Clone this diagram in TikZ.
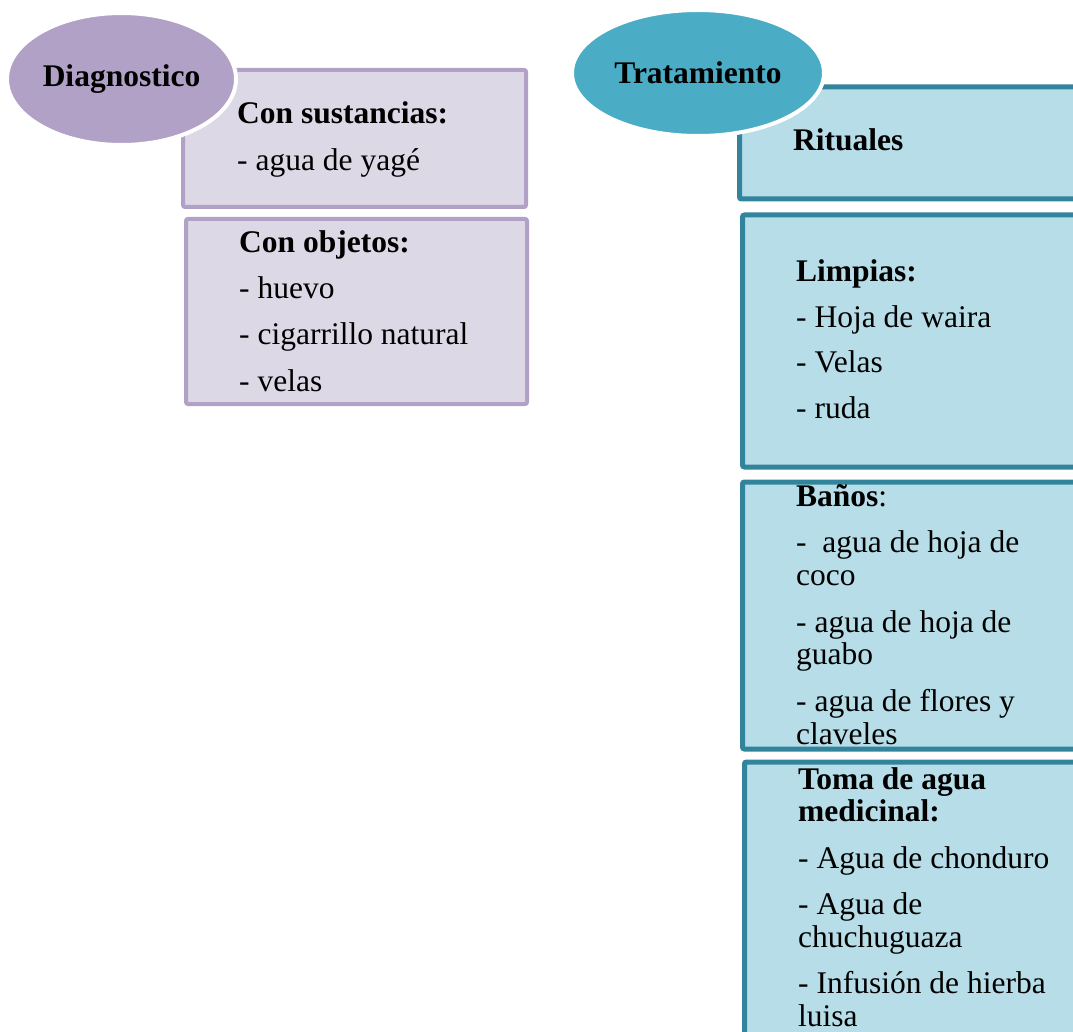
\documentclass[tikz,border=0pt]{standalone}
\usepackage{fontspec}
\setmainfont{Liberation Serif}
\usetikzlibrary{shapes.geometric}

\definecolor{lila}{HTML}{B2A1C7}
\definecolor{lilaclaro}{HTML}{DCD8E5}
\definecolor{turq}{HTML}{4BACC6}
\definecolor{turqclaro}{HTML}{B7DDE8}
\definecolor{turqoscuro}{HTML}{31849B}

\tikzset{
	caja/.style={rectangle, rounded corners=2pt, inner sep=0pt, anchor=north west},
	cajadiag/.style={caja, fill=lilaclaro, draw=lila, line width=4pt},
	cajatrat/.style={caja, fill=turqclaro, draw=turqoscuro, line width=5pt},
	titulo/.style={ellipse, draw=white, line width=4pt, inner sep=0pt, font=\fontsize{31.5}{32}\selectfont\bfseries},
	texto/.style={anchor=base west, inner sep=0pt}
}

\begin{document}
\begin{tikzpicture}[x=1pt,y=-1pt,font=\fontsize{31.5}{32.5}\selectfont]
			\useasboundingbox (0,0) rectangle (1073,1032);
			\clip (0,0) rectangle (1073,1032);

			% diagnostico
			\node[cajadiag, minimum width=343, minimum height=137] (sust) at (181,68) {};
			\node[cajadiag, minimum width=341, minimum height=185] (obj) at (184,217) {};
			\node[texto] (sustxt) at (237,124) {\begin{tabular}[t]{@{}l@{}}
				\textbf{Con sustancias:}\\[14pt]
				- agua de yagé
			\end{tabular}};
			\node[texto] (objtxt) at (239,253) {\begin{tabular}[t]{@{}l@{}}
				\textbf{Con objetos:}\\[13pt]
				- huevo\\[14pt]
				- cigarrillo natural\\[14pt]
				- velas
			\end{tabular}};

			% tratamiento
			\node[cajatrat, minimum width=360, minimum height=112] (rit) at (737,84.5) {};
			\node[cajatrat, minimum width=360, minimum height=252] (limp) at (740,212.5) {};
			\node[cajatrat, minimum width=360, minimum height=267] (banos) at (740,479.5) {};
			\node[cajatrat, minimum width=360, minimum height=300] (toma) at (742,759.5) {};
			\node[texto] (rittxt) at (793,151) {\textbf{Rituales}};
			\node[texto] (limptxt) at (796,281) {\begin{tabular}[t]{@{}l@{}}
				\textbf{Limpias:}\\[13.5pt]
				- Hoja de waira\\[13.5pt]
				- Velas\\[13.5pt]
				- ruda
			\end{tabular}};
			\node[texto] (banostxt) at (796,506) {\begin{tabular}[t]{@{}l@{}}
				\textbf{Baños}:\\[14pt]
				-\ \ agua de hoja de\\
				coco\\[14.5pt]
				- agua de hoja de\\
				guabo\\[14.5pt]
				- agua de flores y\\
				claveles
			\end{tabular}};
			\node[texto] (tomatxt) at (798,789) {\begin{tabular}[t]{@{}l@{}}
				\textbf{Toma de agua}\\
				\textbf{medicinal:}\\[14pt]
				- Agua de chonduro\\[14pt]
				- Agua de\\
				chuchuguaza\\[14pt]
				- Infusión de hierba\\
				luisa
			\end{tabular}};

			\node[titulo, fill=lila, minimum width=229, minimum height=132] (diag) at (121.5,79) {Diagnostico};
			\node[titulo, fill=turq, minimum width=252, minimum height=126] (trat) at (698,73) {Tratamiento};
\end{tikzpicture}
\end{document}
